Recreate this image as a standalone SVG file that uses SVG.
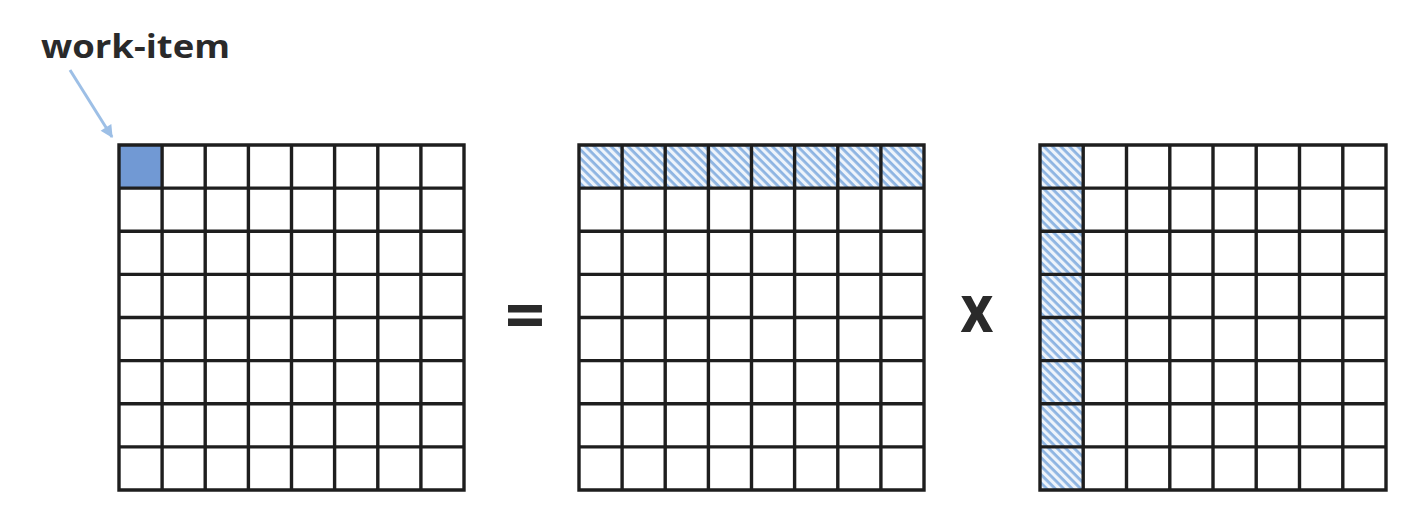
<svg xmlns="http://www.w3.org/2000/svg" width="1420" height="524" viewBox="0 0 1420 524">
  <style>
    .grid { fill: none; stroke: #1e1e1e; stroke-width: 3.4; }
    .label { font-family: "Open Sans", "Liberation Sans", sans-serif; font-weight: bold; fill: #2a2a2a; }
  </style>
  <defs>
    <pattern id="hatch" patternUnits="userSpaceOnUse" width="6" height="6" patternTransform="rotate(45)">
      <rect x="0" y="0" width="6" height="6" fill="#eef4fb"/>
      <rect x="0" y="0" width="6" height="2.8" fill="#8db4e2"/>
    </pattern>
    <marker id="arrow" viewBox="0 0 10 10" refX="9" refY="5" markerWidth="5" markerHeight="4.2" orient="auto" markerUnits="strokeWidth">
      <path d="M0,0 L10,5 L0,10 z" fill="#9dbfe6"/>
    </marker>
  </defs>
  <rect width="1420" height="524" fill="#ffffff"/>

  <g id="label-work-item">
    <text class="label" x="41" y="58" font-size="33" font-weight="800" textLength="189" lengthAdjust="spacingAndGlyphs">work-item</text>
  </g>

  <g id="connectors">
    <line x1="70" y1="70" x2="112" y2="137" stroke="#9dbfe6" stroke-width="3" marker-end="url(#arrow)"/>
  </g>

  <g id="matrix-c">
    <rect x="119" y="145" width="43.1" height="43.1" fill="#7199d4"/>
    <path class="grid" d="M119,145 H464 V490 H119 Z
      M162.1,145 V490 M205.2,145 V490 M248.4,145 V490 M291.5,145 V490 M334.6,145 V490 M377.8,145 V490 M420.9,145 V490
      M119,188.1 H464 M119,231.2 H464 M119,274.4 H464 M119,317.5 H464 M119,360.6 H464 M119,403.8 H464 M119,446.9 H464"/>
  </g>

  <g id="op-equals">
    <text class="label" x="525" y="340" font-size="70" font-weight="800" text-anchor="middle">=</text>
  </g>

  <g id="matrix-a">
    <rect x="579" y="145" width="345" height="43.1" fill="url(#hatch)"/>
    <path class="grid" d="M579,145 H924 V490 H579 Z
      M622.1,145 V490 M665.2,145 V490 M708.4,145 V490 M751.5,145 V490 M794.6,145 V490 M837.8,145 V490 M880.9,145 V490
      M579,188.1 H924 M579,231.2 H924 M579,274.4 H924 M579,317.5 H924 M579,360.6 H924 M579,403.8 H924 M579,446.9 H924"/>
  </g>

  <g id="op-times">
    <text class="label" x="977" y="332" font-size="66" text-anchor="middle" transform="translate(977,0) scale(0.86,1) translate(-977,0)">x</text>
  </g>

  <g id="matrix-b">
    <rect x="1040" y="145" width="43.2" height="345" fill="url(#hatch)"/>
    <path class="grid" d="M1040,145 H1386 V490 H1040 Z
      M1083.2,145 V490 M1126.5,145 V490 M1169.8,145 V490 M1213,145 V490 M1256.2,145 V490 M1299.5,145 V490 M1342.8,145 V490
      M1040,188.1 H1386 M1040,231.2 H1386 M1040,274.4 H1386 M1040,317.5 H1386 M1040,360.6 H1386 M1040,403.8 H1386 M1040,446.9 H1386"/>
  </g>
</svg>
